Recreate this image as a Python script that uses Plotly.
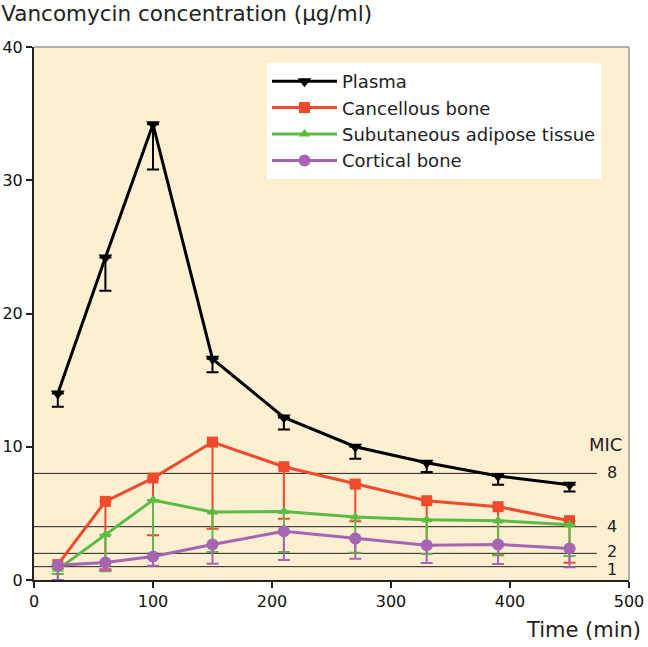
import plotly.graph_objects as go

time_min = [20, 60, 100, 150, 210, 270, 330, 390, 450]

plasma = [14.0, 24.2, 34.2, 16.6, 12.2, 10.0, 8.8, 7.8, 7.15]
plasma_low = [13.0, 21.7, 30.8, 15.6, 11.3, 9.1, 8.1, 7.15, 6.65]

cancellous = [1.15, 5.9, 7.65, 10.35, 8.5, 7.2, 5.95, 5.5, 4.45]
cancellous_low = [0.0, 0.8, 3.35, 3.85, 4.6, 4.4, 2.6, 1.85, 1.3]

adipose = [0.8, 3.4, 6.0, 5.1, 5.15, 4.72, 4.52, 4.45, 4.15]
adipose_low = [0.45, 0.65, 1.65, 2.1, 2.1, 2.05, 1.95, 1.9, 1.8]

cortical = [1.1, 1.32, 1.77, 2.67, 3.65, 3.12, 2.6, 2.67, 2.37]
cortical_low = [0.0, 0.72, 1.07, 1.22, 1.5, 1.6, 1.27, 1.2, 0.95]

mic_levels = [1, 2, 4, 8]
mic_label_y = [0.85, 2.2, 4.05, 8.1]
mic_line_end = 473
mic_label_x = 486

series = [
    ("Plasma", plasma, plasma_low, "#000000", "triangle-down", 12),
    ("Cancellous bone", cancellous, cancellous_low, "#EF4A2C", "square", 11),
    ("Subutaneous adipose tissue", adipose, adipose_low, "#5CBB45", "triangle-up", 10),
    ("Cortical bone", cortical, cortical_low, "#A565B2", "circle", 12),
]

FONT = "DejaVu Sans, Liberation Sans, Arial, sans-serif"
TXT = "#222222"

fig = go.Figure()

# MIC reference lines
for m in mic_levels:
    fig.add_trace(go.Scatter(
        x=[0, mic_line_end], y=[m, m], mode="lines",
        line=dict(color="#222222", width=1), showlegend=False, hoverinfo="skip"))

for name, vals, lows, color, sym, size in series:
    minus = [v - l for v, l in zip(vals, lows)]
    fig.add_trace(go.Scatter(
        x=time_min, y=vals, name=name, mode="lines+markers",
        legendgroup=name,
        line=dict(color=color, width=3),
        marker=dict(symbol=sym, size=size, color=color),
        error_y=dict(type="data", symmetric=False, array=[0] * len(vals),
                     arrayminus=minus, color=color, thickness=2, width=6),
    ))

for m, ly in zip(mic_levels, mic_label_y):
    fig.add_annotation(x=mic_label_x, y=ly, xref="x", yref="y", text=str(m),
                       showarrow=False, font=dict(size=16, color=TXT, family=FONT),
                       height=16, valign="middle",
                       xanchor="center", yanchor="middle")
fig.add_annotation(x=480, y=10.2, xref="x", yref="y", text="MIC",
                   showarrow=False, font=dict(size=18, color=TXT, family=FONT),
                   xanchor="center", yanchor="middle")

fig.add_annotation(x=1.0235, y=-0.094, xref="paper", yref="paper", text="Time (min)",
                   showarrow=False, font=dict(size=21, color=TXT, family=FONT),
                   xanchor="right", yanchor="middle")

# thin gray frame on top and right
fig.add_shape(type="line", xref="paper", yref="paper", x0=0, x1=1, y0=1, y1=1,
              line=dict(color="#999999", width=1.5))
fig.add_shape(type="line", xref="paper", yref="paper", x0=1, x1=1, y0=0, y1=1,
              line=dict(color="#999999", width=1.5))

axis_common = dict(showgrid=False, zeroline=False, showline=True, linecolor="#222222",
                   linewidth=2, ticks="outside", ticklen=6, tickwidth=1.5,
                   tickcolor="#222222", automargin=False,
                   tickfont=dict(size=16, color="#111111", family=FONT))

fig.update_layout(
    width=648, height=647,
    margin=dict(l=34, r=19, t=47, b=67, autoexpand=False),
    paper_bgcolor="white",
    plot_bgcolor="#FDEFD1",
    font=dict(family=FONT, color=TXT),
    title=dict(text="Vancomycin concentration (μg/ml)", x=0.002, xref="container",
               xanchor="left", y=0.979, yref="container", yanchor="middle",
               font=dict(size=21.5, color=TXT, family=FONT)),
    xaxis=dict(range=[0, 500], tickvals=[0, 100, 200, 300, 400, 500], **axis_common),
    yaxis=dict(range=[0, 40], tickvals=[0, 10, 20, 30, 40], **axis_common),
    legend=dict(x=0.3916, y=0.970, xanchor="left", yanchor="top",
                bgcolor="white", borderwidth=0, itemwidth=65,
                font=dict(size=18, color=TXT, family=FONT), tracegroupgap=0),
)

fig.write_html("out.html", config={"displayModeBar": False},
               post_script="document.body.style.margin='0px';")
